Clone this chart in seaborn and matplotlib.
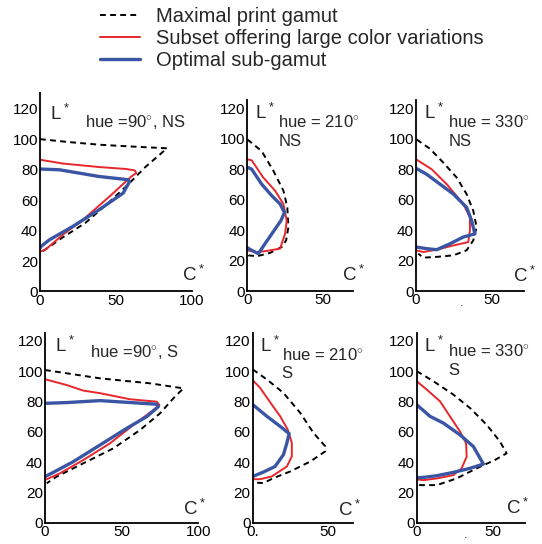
import matplotlib
matplotlib.use("Agg")
import matplotlib.pyplot as plt
import seaborn as sns
import pandas as pd

# (C*, L*) points, one list per curve
max_90ns = [(0, 100), (20, 98), (40, 96.3), (60, 95.2), (84, 94), (70, 82), (58, 70), (45, 58), (30, 45), (15, 35.5), (2, 26.5), (0, 25.5)]
sub_90ns = [(0, 86.5), (15, 84), (39, 81.7), (57, 80.4), (62.6, 79.5), (63.7, 77.7), (60.4, 75.5), (46, 62.4), (28.3, 47), (15, 37.2), (4, 27.8), (0.7, 26.3)]
opt_90ns = [(0, 80.4), (12.8, 79.9), (39, 75.5), (58, 73.4), (59.3, 72.3), (55, 64.6), (39, 53.6), (21.7, 42.7), (6.2, 33.9), (0.7, 29.6), (0, 28.5)]

max_210ns = [(0, 99.4), (9.5, 91.8), (17.3, 78.8), (23.9, 65.8), (26.5, 54.9), (27.2, 41.9), (25.7, 33.2), (22.8, 28.9), (15, 25), (6.2, 22.8), (0.7, 23.4), (0, 25.6)]
sub_210ns = [(0, 86.4), (2.9, 85.7), (10.6, 74.4), (18.4, 65.8), (23.9, 57.1), (26.1, 46.2), (25, 37.5), (21.7, 27.8), (12.8, 26.3), (6.2, 25.6), (0, 26.7)]
opt_210ns = [(0.7, 80.9), (2.9, 79.9), (9.5, 70.1), (16.2, 62.5), (21.7, 57.1), (24.6, 51.6), (22.3, 46.2), (16.2, 37.5), (11.7, 31), (7.3, 24.5), (2.9, 26.7), (0, 28.4)]

max_330ns = [(0.4, 99.4), (9.2, 93.3), (18, 84.2), (26.8, 74.4), (33.3, 63.6), (37.7, 52.7), (39.9, 41.9), (37.7, 33.2), (33.3, 26.7), (24.6, 23.4), (13.6, 22.4), (4.8, 21.9), (1.5, 24.5)]
sub_330ns = [(0, 86.4), (10.3, 79.9), (20.2, 70.1), (31.1, 57.1), (35.5, 48.4), (35.5, 39.7), (34.4, 32.1), (24.6, 29.9), (13.6, 27.1), (4.8, 25.6), (0, 26.7)]
opt_330ns = [(0, 80.5), (7, 76.6), (15.8, 70.1), (24.6, 63.6), (33.3, 54.9), (36.6, 46.2), (38.8, 37.5), (31.1, 35.4), (22.4, 31), (13.6, 27.1), (7, 27.8), (0, 28.9)]

max_90s = [(0, 100.8), (35.9, 95.3), (68.5, 92), (90.2, 88.7), (83.7, 82.1), (75, 72.2), (62, 61.2), (44.6, 49.1), (25, 39.2), (7.6, 30.4), (1.1, 26)]
sub_90s = [(0, 94.7), (14.1, 90.9), (25, 87.2), (35.9, 85.5), (55.4, 81.5), (72.8, 79.9), (74.6, 77.7), (70.7, 74.4), (57.6, 64.5), (42.4, 52.4), (25, 41.4), (9.8, 32.6), (0, 28.2)]
opt_90s = [(0, 78.8), (14.1, 79.3), (35.9, 80.6), (46.7, 79.9), (72.8, 78.2), (73.9, 76.6), (66.3, 70), (53.3, 62.3), (35.9, 51.3), (18.5, 40.3), (5.4, 33.2), (0, 30.4)]

max_210s = [(0, 101.2), (9.4, 94.6), (20.5, 85.7), (31.7, 72.5), (40.6, 59.2), (48.4, 50.4), (48.4, 47.1), (38.4, 40.4), (25, 33.8), (13.8, 29.4), (7.1, 26.1), (1.6, 26.5)]
sub_210s = [(0, 94.1), (4.9, 89.1), (12.7, 78), (18.3, 70.3), (23.4, 61.4), (26.1, 52.6), (26.1, 43.8), (22.8, 37.1), (12.7, 30.5), (4.9, 28.7), (0, 28.7)]
opt_210s = [(0, 78), (9.4, 70.3), (18.3, 63.6), (24.3, 58.8), (22.8, 52.6), (20.5, 44.9), (14.9, 37.1), (7.1, 33.4), (0, 30.5)]

max_330s = [(0, 100.1), (11, 93.4), (24.1, 84.6), (35.1, 75.7), (46.1, 64.6), (54.8, 53.6), (59.2, 45.8), (51.5, 41.4), (39.5, 35.9), (26.3, 29.2), (13.2, 24.8), (2.2, 24.8), (0, 26.3)]
sub_330s = [(0, 93.4), (6.6, 87.9), (15.4, 80.1), (21.9, 70.2), (28.5, 60.2), (32.5, 52.5), (32.9, 43.6), (29.6, 35.9), (24.1, 31.4), (13.2, 29.2), (4.4, 28.1), (0, 28.6)]
opt_330s = [(0, 77.9), (8.8, 70.2), (17.5, 65.8), (28.5, 58), (37.3, 50.3), (43.9, 38.7), (35.1, 35.9), (24.1, 33.2), (13.2, 31), (4.4, 29.9), (0, 29.7)]

series_labels = ["Maximal print gamut", "Subset offering large color variations", "Optimal sub-gamut"]
hue_titles = ["hue =90$^{\\circ}$, NS", "hue = 210$^{\\circ}$\nNS", "hue = 330$^{\\circ}$\nNS",
              "hue =90$^{\\circ}$, S", "hue = 210$^{\\circ}$\nS", "hue = 330$^{\\circ}$\nS"]
x_ticklabels = [["0", "50", "100"], ["0", "50"], ["0", "50"],
                ["0", "50", "100"], ["0.", "50"], ["0", "50"]]

panels = [
    (max_90ns, sub_90ns, opt_90ns),
    (max_210ns, sub_210ns, opt_210ns),
    (max_330ns, sub_330ns, opt_330ns),
    (max_90s, sub_90s, opt_90s),
    (max_210s, sub_210s, opt_210s),
    (max_330s, sub_330s, opt_330s),
]

sns.set_style("white")
plt.rcParams["font.family"] = ["Liberation Sans", "DejaVu Sans"]
plt.rcParams["mathtext.fontset"] = "custom"
plt.rcParams["mathtext.rm"] = "Liberation Sans"

RED = "#e8262b"
BLUE = "#3a55a4"
styles = [
    dict(color="black", lw=1.4, dashes=(3, 2.2)),
    dict(color=RED, lw=1.4),
    dict(color=BLUE, lw=2.4),
]

# axes boxes [left, bottom, width, height] and limits
boxes = [
    [0.0738, 0.4642, 0.2804, 0.364],
    [0.4563, 0.4650, 0.1950, 0.3504],
    [0.7675, 0.4650, 0.1990, 0.3504],
    [0.0830, 0.0392, 0.2830, 0.348],
    [0.4662, 0.0392, 0.1854, 0.348],
    [0.7688, 0.0392, 0.1990, 0.348],
]
xlims = [100.5, 70, 71, 100, 67, 71]
ylims = [130, 125, 125, 125, 125, 125]
title_pos = [(29.6, 111), (20.5, 104.5), (21.2, 104.5), (29.3, 112), (19.3, 104.5), (20.8, 107)]
cstar_pos = [(94, 11), (62.5, 10.5), (64, 10), (90, 9.5), (57, 8.5), (59, 9.7)]
dot_x = {2: 30, 5: 32}

fig = plt.figure(figsize=(5.42, 5.44), dpi=100)
handles = []
for i, curves in enumerate(panels):
    ax = fig.add_axes(boxes[i])
    for j, pts in enumerate(curves):
        df = pd.DataFrame(pts, columns=["C", "L"])
        st = styles[j]
        sns.lineplot(data=df, x="C", y="L", sort=False, estimator=None, ax=ax,
                     color=st["color"], lw=st["lw"], legend=False)
        line = ax.lines[-1]
        if "dashes" in st:
            line.set_dashes(st["dashes"])
        if i == 0:
            handles.append(line)
    ax.set_xlim(0, xlims[i])
    ax.set_ylim(0, ylims[i])
    xt = [0, 50, 100][:len(x_ticklabels[i])]
    ax.set_xticks(xt)
    ax.set_xticklabels(x_ticklabels[i])
    ax.set_yticks(range(0, 121, 20))
    ax.set_xlabel("")
    ax.set_ylabel("")
    for s in ["top", "right"]:
        ax.spines[s].set_visible(False)
    for s in ["left", "bottom"]:
        ax.spines[s].set_linewidth(1.3)
        ax.spines[s].set_color("black")
    ax.tick_params(direction="in", length=3, width=1, labelsize=11, pad=1.5, colors="black")
    ax.text(6.5 if xlims[i] > 90 else 5, 117, "L$^*$", fontsize=13.5, ha="left", va="center")
    ax.text(title_pos[i][0], title_pos[i][1], hue_titles[i], fontsize=12, ha="left",
            va="center", linespacing=1.2)
    ax.text(cstar_pos[i][0], cstar_pos[i][1], "C$^*$", fontsize=13.5, ha="left", va="center")
    if i in dot_x:
        ax.text(dot_x[i], -4, ".", fontsize=9, ha="center", va="top")

leg = fig.legend(handles=handles, labels=series_labels, loc="upper left",
                 bbox_to_anchor=(0.184, 0.987), frameon=False, fontsize=14.5,
                 handlelength=2.0, handletextpad=0.8, labelspacing=0.15,
                 borderpad=0, borderaxespad=0)

fig.savefig("out.png", dpi=100)
